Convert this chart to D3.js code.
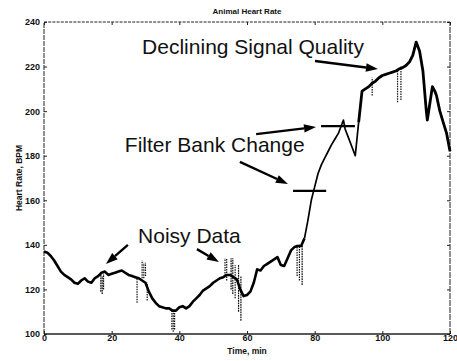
<!DOCTYPE html>
<html>
<head>
<meta charset="utf-8">
<script src="https://cdn.jsdelivr.net/npm/d3@7"></script>
<style>
  html, body { margin: 0; padding: 0; background: #fff; }
  svg { display: block; }
  text { font-family: "Liberation Sans", Arial, Helvetica, sans-serif; fill: #111; }
</style>
</head>
<body>
<svg id="chart" width="457" height="361"></svg>
<script>
// Heart-rate trace, minutes vs beats per minute
const time = [0,1,2,3,4,5,6,7,8,9,10,11,12,13,14,15,16,17,18,19,20,21,22,23,24,25,26,27,28,29,30,
  31,32,33,34,35,36,37,38,39,40,41,42,43,44,45,46,47,48,49,50,51,52,53,54,55,56,57,58,59,60,
  61,62,63,64,65,66,67,68,69,70,71,72,73,74,75,76,77,78,79,80,81,82,83,84,85,86,87,88,88.5,89,90,
  91,92,93,94,95,96,97,98,99,100,101,102,103,104,105,106,107,108,109,110,111,112,113,113.3,114,114.8,
  115.5,116,117,118,119,120];
const bpm = [137,136.5,135,133,130.5,128,126.5,125.5,124.5,123,122.5,124,125,123.5,123,125,126,127.5,128,126.5,127,
  127.5,128,128.5,127.5,126.5,126,125.5,125,124,123,
  119,116,114,112.5,112,111.5,111.5,110.5,110.5,112,112.5,111.5,112.5,114.5,116,117.5,119.5,120.5,121.5,123,
  124,125,125.5,126.5,126.5,125.5,124.5,120,117,117.5,
  119,123,129,128.5,130.5,131.5,132.5,133.5,134.5,131,130.5,134,137.5,139,139.5,139.5,143,151,160,166,
  172,176,179,182,185,187.5,190,194,196,192,188,
  184,180,195,209,210,211,212.5,213.5,215,216,216.5,217,217.5,218,219,219.5,220.5,222,225,231,
  227,218,200,196,203,211,
  209,207,200,195,190,182];

// Dropout spikes: time, lowest and highest reading
const spikeTime = [16.8,17.2,17.6,27.5,29,29.5,30,30.5,37.8,38.2,38.6,53.5,54,55.3,55.8,56.5,57.5,58.2,74.8,75.5,76.3,97,104.5,105.5];
const spikeLow  = [119,118,120,114,125,125,126,115,102,101,102,126,124,120,118,116,110,106,126,124,122,207,204,205];
const spikeHigh = [127,126,127,125,133,132,132,123,111,111,110,134,134,134,134,131,131,126,140,140,140,215,218,220];

const xTicks = [0,20,40,60,80,100,120];
const yTicks = [100,120,140,160,180,200,220,240];

// Annotation labels and arrows (data coordinates)
const noteText = ["Declining Signal Quality","Filter Bank Change","Noisy Data"];
const noteT    = [29,23.9,27.8];
const noteV    = [225.6,181.7,140.8];
const arrowT0 = [80.1,62.7,57.9,24.8,45.2];
const arrowV0 = [222.5,189.7,177.2,140,138.1];
const arrowT1 = [98.7,80.4,72.1,18.3,51.7];
const arrowV1 = [218.9,192.9,167.3,131.4,132.3];
// Filter change markers
const barT0 = [81.9,73.6];
const barT1 = [91.9,83.4];
const barV  = [193.3,164.2];

const svg = d3.select("#chart");
const x = d3.scaleLinear().domain([0,120]).range([44,450]);
const y = d3.scaleLinear().domain([100,240]).range([334,22]);

// frame
const fr = svg.append("g").attr("stroke","#222").attr("fill","none");
fr.append("line").attr("x1",x(0)).attr("x2",x(120)).attr("y1",y(240)).attr("y2",y(240)).attr("stroke-dasharray","3,1.2");
fr.append("line").attr("x1",x(0)).attr("x2",x(120)).attr("y1",y(100)).attr("y2",y(100)).attr("stroke-width",1.3);
fr.append("line").attr("x1",x(0)).attr("x2",x(0)).attr("y1",y(100)).attr("y2",y(240)).attr("stroke-dasharray","5,1");
fr.append("line").attr("x1",x(120)).attr("x2",x(120)).attr("y1",y(100)).attr("y2",y(240)).attr("stroke-dasharray","6,1");

// axes with inward ticks
const axB = d3.axisBottom(x).tickValues(xTicks).tickSize(-3).tickPadding(1).tickFormat(d3.format("d"));
const axL = d3.axisLeft(y).tickValues(yTicks).tickSize(-3).tickPadding(4).tickFormat(d3.format("d"));
const axT = d3.axisTop(x).tickValues(xTicks).tickSize(-3).tickFormat("");
const axR = d3.axisRight(y).tickValues(yTicks).tickSize(-3).tickFormat("");
function styleAxis(g) {
  g.select(".domain").remove();
  g.selectAll(".tick line").attr("stroke","#222");
  g.selectAll("text").attr("font-size","9px").attr("font-weight","bold").attr("fill","#111")
    .style("font-family","'Liberation Sans', Arial, sans-serif");
}
svg.append("g").attr("transform",`translate(0,${y(100)})`).call(axB).call(styleAxis);
svg.append("g").attr("transform",`translate(${x(0)},0)`).call(axL).call(styleAxis);
svg.append("g").attr("transform",`translate(0,${y(240)})`).call(axT).call(styleAxis);
svg.append("g").attr("transform",`translate(${x(120)},0)`).call(axR).call(styleAxis);

// titles
svg.append("text").attr("x",(x(0)+x(120))/2).attr("y",14).attr("text-anchor","middle")
  .attr("font-size","8px").attr("font-weight","bold").text("Animal Heart Rate");
svg.append("text").attr("x",(x(0)+x(120))/2).attr("y",354).attr("text-anchor","middle")
  .attr("font-size","8.5px").attr("font-weight","bold").text("Time, min");
svg.append("text").attr("transform",`translate(22,${(y(100)+y(240))/2}) rotate(-90)`).attr("text-anchor","middle")
  .attr("font-size","8.5px").attr("font-weight","bold").text("Heart Rate, BPM");

// dropout spikes
svg.append("g").selectAll("line").data(spikeTime).join("line")
  .attr("x1",d=>x(d)).attr("x2",d=>x(d))
  .attr("y1",(d,i)=>y(spikeLow[i])).attr("y2",(d,i)=>y(spikeHigh[i]))
  .attr("stroke","#111").attr("stroke-width",1.2).attr("stroke-dasharray","1.6,0.9");

// heart-rate trace
const pts = time.map((t,i)=>[t,bpm[i]]);
const line = d3.line().x(d=>x(d[0])).y(d=>y(d[1]));
const seg = (a,b) => pts.filter(p=>p[0]>=a && p[0]<=b);
svg.append("path").datum(seg(0,77)).attr("d",line).attr("fill","none").attr("stroke","#000")
  .attr("stroke-width",2.6).attr("stroke-linejoin","round");
svg.append("path").datum(seg(77,93)).attr("d",line).attr("fill","none").attr("stroke","#000")
  .attr("stroke-width",1.7).attr("stroke-linejoin","round");
svg.append("path").datum(seg(93,120)).attr("d",line).attr("fill","none").attr("stroke","#000")
  .attr("stroke-width",2.8).attr("stroke-linejoin","round");

// filter change markers
svg.append("g").selectAll("line").data(barV).join("line")
  .attr("x1",(d,i)=>x(barT0[i])).attr("x2",(d,i)=>x(barT1[i]))
  .attr("y1",d=>y(d)).attr("y2",d=>y(d))
  .attr("stroke","#000").attr("stroke-width",2.2);

// arrows
const ag = svg.append("g");
arrowT0.forEach((t0,i)=>{
  const xa = x(t0), ya = y(arrowV0[i]), xb = x(arrowT1[i]), yb = y(arrowV1[i]);
  const ang = Math.atan2(yb-ya, xb-xa), L = 12, W = 4.2;
  const bx = xb - L*Math.cos(ang), by = yb - L*Math.sin(ang);
  ag.append("line").attr("x1",xa).attr("y1",ya).attr("x2",bx).attr("y2",by)
    .attr("stroke","#000").attr("stroke-width",2.4);
  ag.append("path").attr("fill","#000").attr("d",
    `M${xb},${yb}L${bx+W*Math.sin(ang)},${by-W*Math.cos(ang)}L${bx-W*Math.sin(ang)},${by+W*Math.cos(ang)}Z`);
});

// annotation labels
svg.append("g").selectAll("text").data(noteText).join("text")
  .attr("x",(d,i)=>x(noteT[i])).attr("y",(d,i)=>y(noteV[i]))
  .attr("font-size","21px").attr("fill","#000").text(d=>d);
</script>
</body>
</html>
